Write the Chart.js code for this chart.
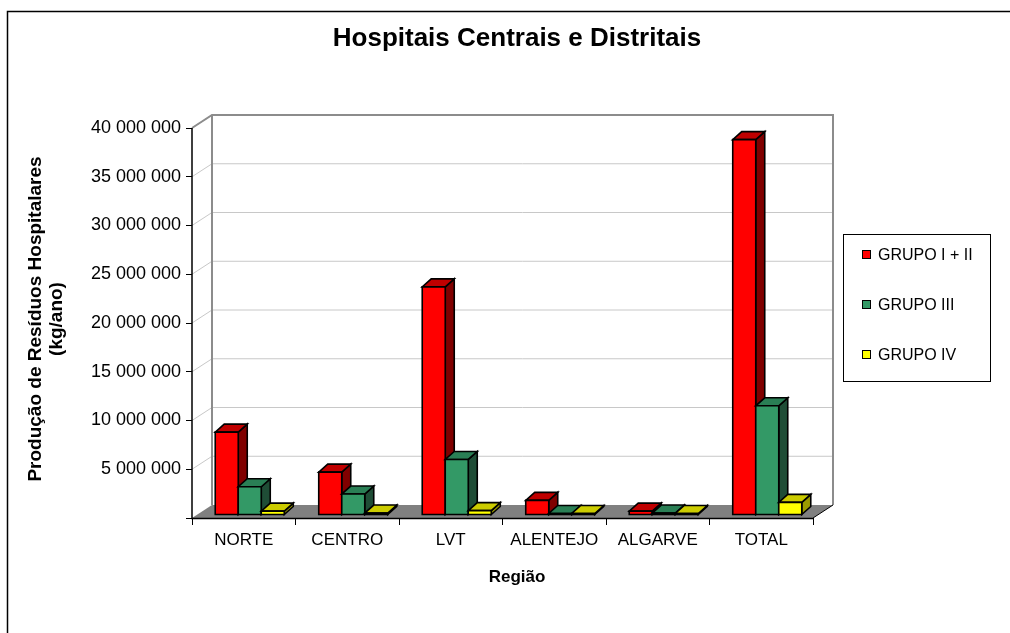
<!DOCTYPE html>
<html>
<head>
<meta charset="utf-8">
<script src="https://cdn.jsdelivr.net/npm/chart.js@4/dist/chart.umd.min.js"></script>
<style>
html,body{margin:0;padding:0;background:#fff;}
#wrap{position:relative;width:1010px;height:633px;}
canvas{display:block;}
</style>
</head>
<body>
<div id="wrap"><canvas id="c" width="1010" height="633"></canvas></div>
<script>
const categories = ['NORTE', 'CENTRO', 'LVT', 'ALENTEJO', 'ALGARVE', 'TOTAL'];
const grupoI_II = [8500000, 4400000, 23400000, 1500000, 400000, 38500000];
const grupoIII  = [2900000, 2150000, 5700000, 150000, 200000, 11200000];
const grupoIV   = [400000, 200000, 450000, 50000, 50000, 1300000];
const seriesNames = ['GRUPO I + II', 'GRUPO III', 'GRUPO IV'];
const yTicks = [0, 5000000, 10000000, 15000000, 20000000, 25000000, 30000000, 35000000, 40000000];

const FONT = "'Liberation Sans', Arial, sans-serif";
Chart.defaults.font.family = FONT;
Chart.defaults.color = '#000';

const faces = [
  {front:'#FF0000', top:'#C00000', side:'#800000'},
  {front:'#339966', top:'#2A7F55', side:'#1F4D36'},
  {front:'#FFFF00', top:'#CCCC00', side:'#999900'}
];
const BACK = {dx: 20, dy: -13};   // back wall offset
const BAR = {ox: 6, oy: -3, dx: 9, dy: -8}; // bar offset + depth

function fmt(v){ return v === 0 ? '' : String(v).replace(/\B(?=(\d{3})+(?!\d))/g, ' '); }

function poly(ctx, pts, fill){
  ctx.beginPath();
  ctx.moveTo(pts[0][0], pts[0][1]);
  for (let i = 1; i < pts.length; i++) ctx.lineTo(pts[i][0], pts[i][1]);
  ctx.closePath();
  ctx.fillStyle = fill; ctx.fill();
  ctx.stroke();
}

const scene = {
  id: 'scene',
  beforeDraw(chart){
    const ctx = chart.ctx;
    ctx.save();
    ctx.fillStyle = '#fff';
    ctx.fillRect(0, 0, chart.width, chart.height);
    // outer frame
    ctx.strokeStyle = '#000'; ctx.lineWidth = 1.5;
    ctx.beginPath();
    ctx.moveTo(7.5, 640); ctx.lineTo(7.5, 11.5); ctx.lineTo(1012, 11.5);
    ctx.stroke();
    // title
    ctx.fillStyle = '#000';
    ctx.textAlign = 'center'; ctx.textBaseline = 'middle';
    ctx.font = 'bold 26px ' + FONT;
    ctx.fillText('Hospitais Centrais e Distritais', 517, 39);
    // x title
    ctx.font = 'bold 17px ' + FONT;
    ctx.fillText('Região', 517, 577);
    // y title
    ctx.save();
    ctx.translate(36, 319); ctx.rotate(-Math.PI/2);
    ctx.font = 'bold 19px ' + FONT;
    ctx.fillText('Produção de Resíduos Hospitalares', 0, 0);
    ctx.fillText('(kg/ano)', 0, 21);
    ctx.restore();
    // legend
    ctx.lineWidth = 1; ctx.strokeStyle = '#000';
    ctx.strokeRect(843.5, 234.5, 147, 147);
    ctx.font = '16px ' + FONT;
    ctx.textAlign = 'left';
    const ly = [255, 305, 355];
    chart.data.datasets.forEach((ds, i) => {
      ctx.fillStyle = faces[i].front;
      ctx.fillRect(862.5, ly[i] - 4.5, 8, 8);
      ctx.strokeRect(862.5, ly[i] - 4.5, 8, 8);
      ctx.fillStyle = '#000';
      ctx.fillText(ds.label, 878, ly[i] + 1);
    });
    ctx.restore();
  },
  beforeDatasetsDraw(chart){
    const ctx = chart.ctx;
    const xs = chart.scales.x, ys = chart.scales.y;
    const L = xs.left, R = xs.right;
    const y0 = ys.getPixelForValue(0), yMax = ys.getPixelForValue(40000000);
    ctx.save();
    // side wall & back wall gridlines
    ctx.lineWidth = 1; ctx.strokeStyle = '#C8C8C8';
    yTicks.forEach(v => {
      if (v === 0) return;
      const py = ys.getPixelForValue(v);
      ctx.beginPath();
      ctx.moveTo(L, py); ctx.lineTo(L + BACK.dx, py + BACK.dy);
      ctx.lineTo(R + BACK.dx, py + BACK.dy);
      ctx.stroke();
    });
    // back wall frame
    ctx.strokeStyle = '#8C8C8C'; ctx.lineWidth = 2;
    ctx.beginPath();
    ctx.moveTo(L, yMax); ctx.lineTo(L + BACK.dx, yMax + BACK.dy);
    ctx.lineTo(R + BACK.dx, yMax + BACK.dy);
    ctx.lineTo(R + BACK.dx, y0 + BACK.dy);
    ctx.stroke();
    ctx.beginPath();
    ctx.moveTo(L + BACK.dx, yMax + BACK.dy); ctx.lineTo(L + BACK.dx, y0 + BACK.dy);
    ctx.stroke();
    // floor
    ctx.fillStyle = '#808080';
    ctx.beginPath();
    ctx.moveTo(L, y0); ctx.lineTo(R, y0);
    ctx.lineTo(R + BACK.dx, y0 + BACK.dy); ctx.lineTo(L + BACK.dx, y0 + BACK.dy);
    ctx.closePath(); ctx.fill();
    ctx.strokeStyle = '#000'; ctx.lineWidth = 1;
    ctx.beginPath();
    ctx.moveTo(R, y0); ctx.lineTo(R + BACK.dx, y0 + BACK.dy);
    ctx.stroke();
    // axis lines
    ctx.lineWidth = 1.5;
    ctx.beginPath();
    ctx.moveTo(L, yMax); ctx.lineTo(L, y0 + 0.5); ctx.lineTo(R, y0 + 0.5);
    ctx.stroke();
    // bars
    ctx.lineWidth = 1.6; ctx.strokeStyle = '#000'; ctx.lineJoin = 'miter';
    const metas = chart.data.datasets.map((d, i) => chart.getDatasetMeta(i));
    for (let c = 0; c < categories.length; c++) {
      metas.forEach((meta, i) => {
        const el = meta.data[c];
        const p = el.getProps(['x', 'y', 'base', 'width'], true);
        const l = p.x - p.width/2 + BAR.ox, r = p.x + p.width/2 + BAR.ox;
        const t = Math.min(p.y, p.base - 1) + BAR.oy, b = p.base + BAR.oy;
        const f = faces[i];
        poly(ctx, [[r, t], [r + BAR.dx, t + BAR.dy], [r + BAR.dx, b + BAR.dy], [r, b]], f.side);
        poly(ctx, [[l, t], [r, t], [r + BAR.dx, t + BAR.dy], [l + BAR.dx, t + BAR.dy]], f.top);
        poly(ctx, [[l, t], [r, t], [r, b], [l, b]], f.front);
      });
    }
    ctx.restore();
    return false;
  }
};

new Chart(document.getElementById('c'), {
  type: 'bar',
  data: {
    labels: categories,
    datasets: [
      {label: seriesNames[0], data: grupoI_II, backgroundColor: faces[0].front},
      {label: seriesNames[1], data: grupoIII, backgroundColor: faces[1].front},
      {label: seriesNames[2], data: grupoIV, backgroundColor: faces[2].front}
    ]
  },
  options: {
    responsive: false,
    animation: false,
    events: [],
    layout: {padding: {left: 0, right: 197, top: 128, bottom: 75}},
    plugins: {legend: {display: false}, title: {display: false}, tooltip: {enabled: false}},
    datasets: {bar: {categoryPercentage: 0.667, barPercentage: 1}},
    scales: {
      x: {
        afterFit(s){ s.height = 40; },
        border: {display: false},
        grid: {display: true, drawOnChartArea: false, drawTicks: true, tickLength: 7, offset: true, color: '#000', lineWidth: 1},
        ticks: {font: {size: 17}, color: '#000', padding: 5, maxRotation: 0, autoSkip: false}
      },
      y: {
        min: 0, max: 40000000,
        afterFit(s){ s.width = 192; },
        afterBuildTicks(s){ s.ticks = yTicks.map(v => ({value: v})); },
        border: {display: false},
        grid: {display: true, drawOnChartArea: false, drawTicks: true, tickLength: 6, color: '#000', lineWidth: 1},
        ticks: {font: {size: 18}, color: '#000', padding: 5, callback: v => fmt(v)}
      }
    }
  },
  plugins: [scene]
});
</script>
</body>
</html>
